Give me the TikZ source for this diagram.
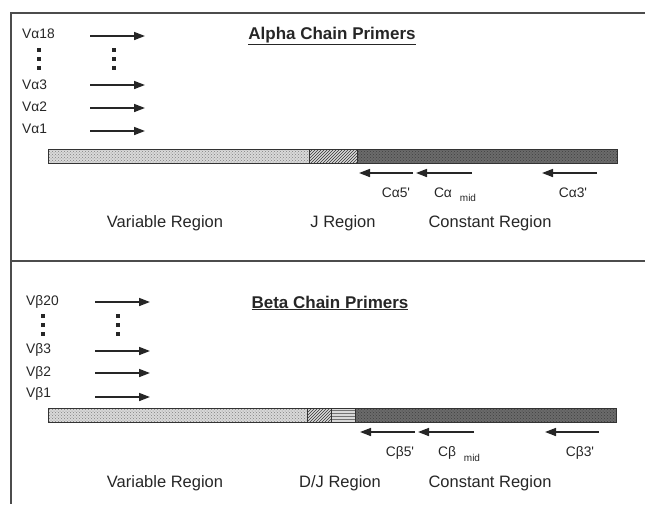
\documentclass[tikz,border=0pt]{standalone}
\usepackage{fontspec}
\setmainfont{Liberation Sans}
\usetikzlibrary{arrows.meta,patterns}
\begin{document}
\begin{tikzpicture}[x=1pt,y=-1pt,
  frame/.style={line width=1.5pt, draw=black!70},
  primer/.style={line width=1.6pt, draw=black!85, -{Triangle[length=11pt,width=8pt]}},
  vlab/.style={anchor=west, font=\fontsize{13.8}{14}\selectfont, text=black!85, inner sep=0pt},
  clab/.style={font=\fontsize{13.8}{14}\selectfont, text=black!85, inner sep=0pt},
  sublab/.style={font=\fontsize{10}{11}\selectfont, text=black!85, inner sep=0pt},
  region/.style={font=\fontsize{16.5}{18}\selectfont, text=black!85, inner sep=0pt},
  titlelab/.style={font=\bfseries\fontsize{17}{19}\selectfont, text=black!85, inner sep=0pt},
  dotsq/.style={fill=black!85, minimum size=4.5pt, inner sep=0pt},
  varfill/.style={fill=black!15},
  vardots/.style={pattern=crosshatch dots, pattern color=black!50},
  jfill/.style={fill=black!15},
  jlines/.style={pattern=north east lines, pattern color=black!80},
  dlines/.style={pattern=horizontal lines, pattern color=black!55},
  constfill/.style={fill=black!58},
  constdots/.style={pattern=crosshatch dots, pattern color=black!75},
  barline/.style={draw=black!80, line width=0.9pt}
]
\useasboundingbox (0,0) rectangle (645,504);

% frame
\coordinate (tl) at (11,13);
\coordinate (tr) at (645,13);
\coordinate (bl) at (11,504);
\coordinate (ml) at (11,261);
\coordinate (mr) at (645,261);
\draw[frame] (tr) -- (tl) -- (bl);
\draw[frame] (ml) -- (mr);

% ===== Alpha =====
\node[titlelab] (atitle) at (332,36) {\underline{Alpha Chain Primers}};
\node[vlab] (va18) at (22,34) {Vα18};
\node[vlab] (va3) at (22,85) {Vα3};
\node[vlab] (va2) at (22,107) {Vα2};
\node[vlab] (va1) at (22,129) {Vα1};
\foreach \yy in {50,59,68}{
  \node[dotsq] at (39,\yy) {};
  \node[dotsq] at (114,\yy) {};
}
\foreach \n/\yy in {18/36,3/85,2/108,1/131}{
  \coordinate (as\n) at (90,\yy);
  \coordinate (ae\n) at (145,\yy);
  \draw[primer] (as\n) -- (ae\n);
}
% bar
\fill[varfill] (48,149) rectangle (309,163);
\fill[vardots] (48,149) rectangle (309,163);
\fill[jfill] (309,149) rectangle (357,163);
\fill[jlines] (309,149) rectangle (357,163);
\fill[constfill] (357,149) rectangle (617,163);
\fill[constdots] (357,149) rectangle (617,163);
\draw[barline] (48,149) rectangle (617,163);
\draw[barline] (309,149) -- (309,163);
\draw[barline] (357,149) -- (357,163);
% reverse primers
\coordinate (ca5s) at (413,173); \coordinate (ca5e) at (359,173);
\coordinate (cams) at (472,173); \coordinate (came) at (416,173);
\coordinate (ca3s) at (597,173); \coordinate (ca3e) at (542,173);
\draw[primer] (ca5s) -- (ca5e);
\draw[primer] (cams) -- (came);
\draw[primer] (ca3s) -- (ca3e);
\node[clab] (ca5) at (396,193) {Cα5\textquotesingle};
\node[clab] (cam) at (443,193) {Cα};
\node[sublab] (camsub) at (468,198) {mid};
\node[clab] (ca3) at (573,193) {Cα3\textquotesingle};
\node[region] (avar) at (165,223) {Variable Region};
\node[region] (aj) at (343,223) {J Region};
\node[region] (aconst) at (490,223) {Constant Region};

% ===== Beta =====
\node[titlelab] (btitle) at (330,303) {\underline{Beta Chain Primers}};
\node[vlab] (vb20) at (26,302) {Vβ20};
\node[vlab] (vb3) at (26,350) {Vβ3};
\node[vlab] (vb2) at (26,373) {Vβ2};
\node[vlab] (vb1) at (26,394) {Vβ1};
\foreach \yy in {316,325,334}{
  \node[dotsq] at (43,\yy) {};
  \node[dotsq] at (118,\yy) {};
}
\foreach \n/\yy in {20/302,3/351,2/373,1/397}{
  \coordinate (bs\n) at (95,\yy);
  \coordinate (be\n) at (150,\yy);
  \draw[primer] (bs\n) -- (be\n);
}
% bar
\fill[varfill] (48,408) rectangle (307,422);
\fill[vardots] (48,408) rectangle (307,422);
\fill[jfill] (307,408) rectangle (331,422);
\fill[jlines] (307,408) rectangle (331,422);
\fill[jfill] (331,408) rectangle (355,422);
\fill[dlines] (331,408) rectangle (355,422);
\fill[constfill] (355,408) rectangle (616,422);
\fill[constdots] (355,408) rectangle (616,422);
\draw[barline] (48,408) rectangle (616,422);
\draw[barline] (307,408) -- (307,422);
\draw[barline] (331,408) -- (331,422);
\draw[barline] (355,408) -- (355,422);
% reverse primers
\coordinate (cb5s) at (415,432); \coordinate (cb5e) at (360,432);
\coordinate (cbms) at (474,432); \coordinate (cbme) at (418,432);
\coordinate (cb3s) at (599,432); \coordinate (cb3e) at (545,432);
\draw[primer] (cb5s) -- (cb5e);
\draw[primer] (cbms) -- (cbme);
\draw[primer] (cb3s) -- (cb3e);
\node[clab] (cb5) at (400,453) {Cβ5\textquotesingle};
\node[clab] (cbm) at (447,453) {Cβ};
\node[sublab] (cbmsub) at (472,458) {mid};
\node[clab] (cb3) at (580,453) {Cβ3\textquotesingle};
\node[region] (bvar) at (165,483) {Variable Region};
\node[region] (bdj) at (340,483) {D/J Region};
\node[region] (bconst) at (490,483) {Constant Region};
\end{tikzpicture}
\end{document}
